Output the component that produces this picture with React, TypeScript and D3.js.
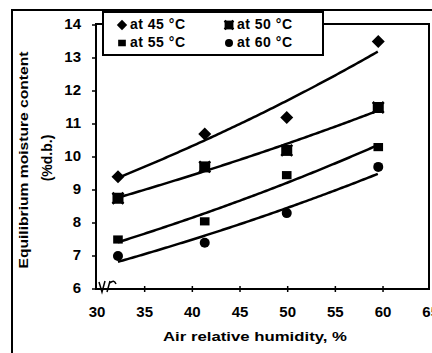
import React from 'react';
import * as d3 from 'd3';

const humidity = [32.2, 41.3, 49.9, 59.5];
const series45 = [9.4, 10.7, 11.2, 13.5];
const series50 = [8.75, 9.7, 10.2, 11.5];
const series55 = [7.5, 8.05, 9.45, 10.3];
const series60 = [7.0, 7.4, 8.3, 9.7];
const seriesNames = ['at 45 °C', 'at 50 °C', 'at 55 °C', 'at 60 °C'];
const xTicks = [30, 35, 40, 45, 50, 55, 60, 65];
const yTicks = [6, 7, 8, 9, 10, 11, 12, 13, 14];

const W = 432, H = 353;
const L = 96, R = 429, T = 24, B = 289;

const x = d3.scaleLinear().domain([30, 65]).range([97, 430.7]);
const y = d3.scaleLinear().domain([6, 14]).range([289, 25]);

function expFit(xs: number[], ys: number[]) {
  const ly = ys.map(Math.log);
  const mx = d3.mean(xs)!;
  const my = d3.mean(ly)!;
  let num = 0, den = 0;
  xs.forEach((v, i) => { num += (v - mx) * (ly[i] - my); den += (v - mx) * (v - mx); });
  const b = num / den;
  const a = my - b * mx;
  return (v: number) => Math.exp(a + b * v);
}

const font = 'Arial, "Liberation Sans", sans-serif';

function Marker({ kind, cx, cy, s = 1 }: { kind: number; cx: number; cy: number; s?: number }) {
  if (kind === 0) {
    const r = 6.5 * s;
    return <path d={`M${cx},${cy - r}L${cx + r},${cy}L${cx},${cy + r}L${cx - r},${cy}Z`} fill="#000" />;
  }
  if (kind === 1) {
    const r = 5.5 * s;
    return (
      <g>
        <rect x={cx - r} y={cy - r} width={2 * r} height={2 * r} fill="#000" />
        <path d={`M${cx - r},${cy - r}L${cx + r},${cy + r}M${cx + r},${cy - r}L${cx - r},${cy + r}`} stroke="#000" strokeWidth={2.5} />
      </g>
    );
  }
  if (kind === 2) {
    const r = 4.8 * s;
    return <rect x={cx - r} y={cy - r * 0.85} width={2 * r} height={1.7 * r} fill="#000" />;
  }
  return <circle cx={cx} cy={cy} r={5 * s} fill="#000" />;
}

export default function App() {
  const all = [series45, series50, series55, series60];
  const xs = d3.range(humidity[0], humidity[humidity.length - 1] + 0.001, 0.25);
  const line = d3.line<[number, number]>().x(d => x(d[0])).y(d => y(d[1]));

  return (
    <svg width={W} height={H} style={{ position: 'absolute', left: 0, top: 0, background: '#fff' }} fontFamily={font}>
      <rect width={W} height={H} fill="#fff" />
      {/* outer frame */}
      <path d={`M12,${H}L12,10L${W},10`} fill="none" stroke="#000" strokeWidth={2} />
      {/* plot frame */}
      <rect x={L} y={T} width={R - L} height={B - T} fill="none" stroke="#000" strokeWidth={2} />
      {/* y ticks */}
      {yTicks.map(t => (
        <g key={'y' + t}>
          <line x1={L - 4} x2={L} y1={y(t)} y2={y(t)} stroke="#000" strokeWidth={1.5} />
          <text x={81} y={y(t)} textAnchor="end" dominantBaseline="middle" fontSize={15} fontWeight="bold">{t}</text>
        </g>
      ))}
      {/* x ticks */}
      {xTicks.map(t => (
        <g key={'x' + t}>
          {t > 30 && t < 65 && <line x1={x(t)} x2={x(t)} y1={B - 3} y2={B + 3} stroke="#000" strokeWidth={1.5} />}
          <text x={x(t)} y={313} textAnchor="middle" dominantBaseline="middle" fontSize={15} fontWeight="bold">{t}</text>
        </g>
      ))}
      {/* axis break */}
      <path d="M99,282 L102,292 L105,281 M107,292 L110,281 M110,283 Q114,279 116,284" fill="none" stroke="#000" strokeWidth={1.5} />
      {/* fitted curves */}
      {all.map((s, i) => {
        const f = expFit(humidity, s);
        return <path key={'l' + i} d={line(xs.map(v => [v, f(v)] as [number, number]))!} fill="none" stroke="#000" strokeWidth={2.5} />;
      })}
      {/* markers */}
      {all.map((s, i) => s.map((v, j) => <Marker key={`m${i}-${j}`} kind={i} cx={x(humidity[j])} cy={y(v)} />))}
      {/* legend */}
      <rect x={103} y={12} width={220} height={43} fill="#fff" stroke="#000" strokeWidth={2} />
      {seriesNames.map((n, i) => {
        const col = i % 2 === 0 ? 0 : 1;
        const row = i < 2 ? 0 : 1;
        const mx = col === 0 ? 122 : 229;
        const my = row === 0 ? 25 : 43;
        return (
          <g key={'lg' + i}>
            <Marker kind={i} cx={mx} cy={my} s={0.8} />
            <text x={mx + 8} y={my} dominantBaseline="middle" fontSize={14} fontWeight="bold" letterSpacing={0.5}>{n}</text>
          </g>
        );
      })}
      {/* axis titles */}
      <text x={255} y={338} textAnchor="middle" dominantBaseline="middle" fontSize={13} fontWeight="bold" textLength={184} lengthAdjust="spacingAndGlyphs">Air relative humidity, %</text>
      <text transform="translate(25,160) rotate(-90)" textAnchor="middle" dominantBaseline="middle" fontSize={13} fontWeight="bold" textLength={217} lengthAdjust="spacingAndGlyphs">Equilibrium moisture content</text>
      <text transform="translate(48,158) rotate(-90)" textAnchor="middle" dominantBaseline="middle" fontSize={14} fontWeight="bold">(%d.b.)</text>
    </svg>
  );
}
